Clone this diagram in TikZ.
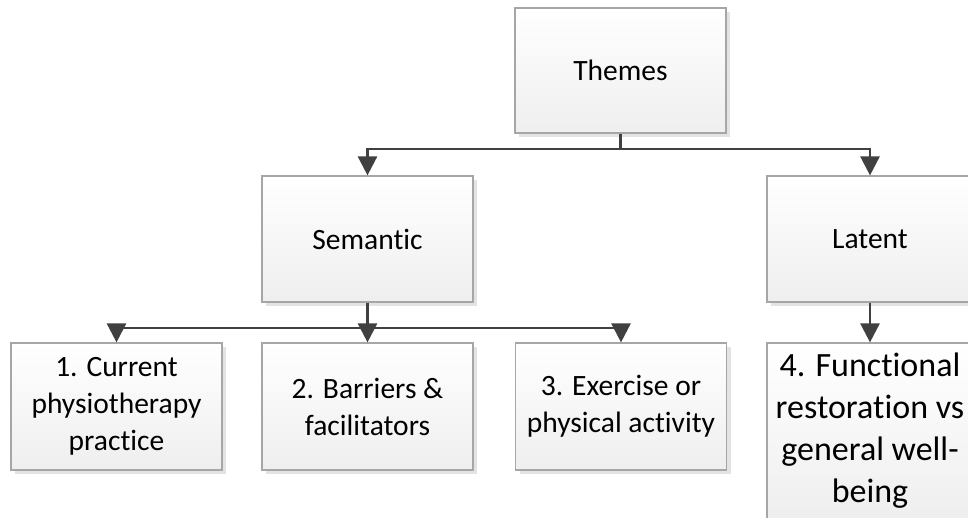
\documentclass[tikz,border=0pt]{standalone}
\usepackage{fontspec}
\setmainfont{Carlito}[Ligatures={NoCommon}]
\usepackage{tikz}
\usetikzlibrary{arrows.meta, positioning, shadows}

\definecolor{linegray}{HTML}{404040}
\definecolor{boxedge}{HTML}{A6A6A6}

\begin{document}
\begin{tikzpicture}[x=1pt, y=-1pt,
  themebox/.style={draw=boxedge, line width=1.2pt, top color=white, bottom color=gray!13,
    minimum width=211pt, minimum height=126pt, align=center,
    font=\fontsize{29.5}{37}\selectfont,
    drop shadow={shadow xshift=4pt, shadow yshift=-4pt, fill=gray!22, opacity=1}},
  link/.style={draw=linegray, line width=2.6pt},
  arr/.style={link, -{Triangle[width=19pt, length=19pt]}}]
\useasboundingbox (0,0) rectangle (968,517);
\clip (0,0) rectangle (968,517);

% top level
\node[themebox, minimum height=125pt] (themes) at (620.5,70.5) {Themes};
\node[themebox] (semantic) at (367.5,239) {Semantic};
\node[themebox, minimum width=206pt] (latent) at (870,239) {Latent};

% sub-themes
\foreach \name/\x/\txt in {cur/116.5/{1. Current\\physiotherapy\\practice},
                           bar/367.5/{2. Barriers \&\\facilitators},
                           exer/621/{3. Exercise or\\physical activity}} {
  \node[themebox, minimum height=127pt] (\name) at (\x,406.5) {\txt};
}
\node[themebox, minimum width=206pt, minimum height=176pt, font=\fontsize{34}{42}\selectfont]
  (func) at (870,431) {4. Functional\\restoration vs\\general well-\\being};

% connectors
\coordinate (tj) at (620.5,149);
\coordinate (sj) at (367.5,328);
\draw[link] (themes) -- (tj);
\draw[arr] (tj) -| (semantic);
\draw[arr] (tj) -| (latent);
\draw[link] (semantic) -- (sj);
\draw[arr] (sj) -| (cur);
\draw[arr] (sj) -- (bar);
\draw[arr] (sj) -| (exer);
\draw[arr] (latent) -- (func);
\end{tikzpicture}
\end{document}
